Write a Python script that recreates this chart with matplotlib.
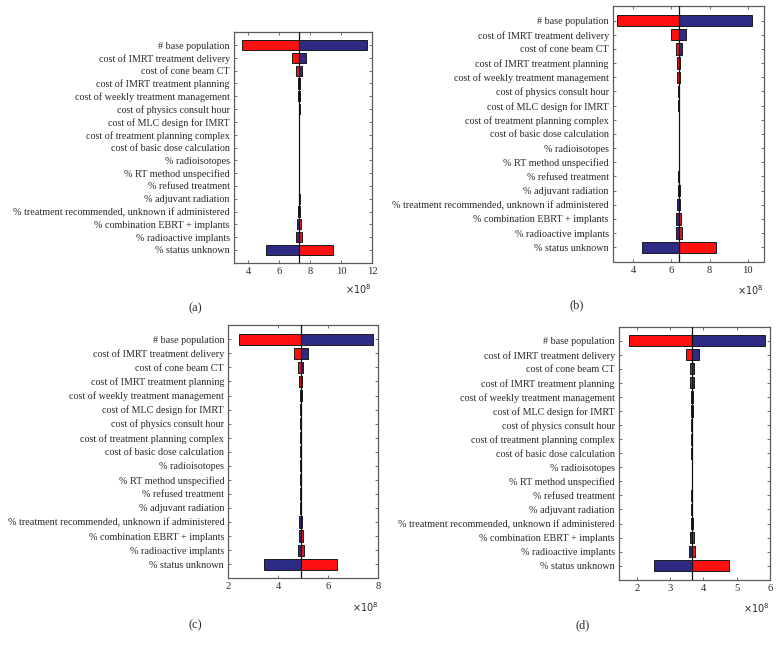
import matplotlib
matplotlib.use("Agg")
import matplotlib.pyplot as plt

plt.rcParams['font.family'] = ['Liberation Serif', 'DejaVu Serif']

categories_ab = [
    "# base population",
    "cost of IMRT treatment delivery",
    "cost of cone beam CT",
    "cost of IMRT treatment planning",
    "cost of weekly treatment management",
    "cost of physics consult hour",
    "cost of MLC design for IMRT",
    "cost of treatment planning complex",
    "cost of basic dose calculation",
    "% radioisotopes",
    "% RT method unspecified",
    "% refused treatment",
    "% adjuvant radiation",
    "% treatment recommended, unknown if administered",
    "% combination EBRT + implants",
    "% radioactive implants",
    "% status unknown",
]
categories_cd = [
    "# base population",
    "cost of IMRT treatment delivery",
    "cost of cone beam CT",
    "cost of IMRT treatment planning",
    "cost of weekly treatment management",
    "cost of MLC design for IMRT",
    "cost of physics consult hour",
    "cost of treatment planning complex",
    "cost of basic dose calculation",
    "% radioisotopes",
    "% RT method unspecified",
    "% refused treatment",
    "% adjuvant radiation",
    "% treatment recommended, unknown if administered",
    "% combination EBRT + implants",
    "% radioactive implants",
    "% status unknown",
]

# values in units of 1e8
base_a = 7.30
red_a = [3.60, 6.85, 7.12, 7.22, 7.24, 7.26, 7.28, 7.29, 7.29, 7.295, 7.295, 7.31, 7.33, 7.35, 7.44, 7.48, 9.50]
blue_a = [11.65, 7.75, 7.48, 7.38, 7.36, 7.34, 7.32, 7.31, 7.31, 7.305, 7.305, 7.29, 7.27, 7.25, 7.17, 7.13, 5.15]

base_b = 6.38
red_b = [3.16, 5.98, 6.22, 6.29, 6.31, 6.35, 6.36, 6.37, 6.37, 6.375, 6.375, 6.40, 6.43, 6.45, 6.50, 6.53, 8.32]
blue_b = [10.21, 6.77, 6.53, 6.47, 6.45, 6.41, 6.40, 6.39, 6.39, 6.385, 6.385, 6.36, 6.33, 6.31, 6.26, 6.22, 4.47]

base_c = 4.89
red_c = [2.43, 4.61, 4.78, 4.82, 4.85, 4.86, 4.87, 4.88, 4.88, 4.885, 4.885, 4.90, 4.92, 4.94, 4.97, 5.01, 6.34]
blue_c = [7.77, 5.17, 5.00, 4.96, 4.93, 4.92, 4.91, 4.90, 4.90, 4.895, 4.895, 4.88, 4.86, 4.84, 4.81, 4.78, 3.43]

base_d = 3.65
red_d = [1.78, 3.48, 3.59, 3.59, 3.62, 3.625, 3.63, 3.635, 3.64, 3.645, 3.645, 3.66, 3.67, 3.68, 3.71, 3.74, 4.77]
blue_d = [5.85, 3.86, 3.73, 3.72, 3.68, 3.675, 3.67, 3.665, 3.66, 3.655, 3.655, 3.64, 3.63, 3.62, 3.60, 3.58, 2.53]

xlim_a = (3.1, 12.0)
xlim_b = (2.93, 10.86)
xlim_c = (2.0, 8.0)
xlim_d = (1.47, 6.0)
xticks_a = [4, 6, 8, 10, 12]
xticks_b = [4, 6, 8, 10]
xticks_c = [2, 4, 6, 8]
xticks_d = [2, 3, 4, 5, 6]
panel_labels = ["(a)", "(b)", "(c)", "(d)"]

RED = "#ff0f0f"
BLUE = "#2e2b85"
EDGE = "#1a1a1a"
FRAME = "#5a5a5a"
TXT = "#2a2a2a"

W, H = 780, 652
fig = plt.figure(figsize=(W / 100, H / 100), dpi=100)


def rect(x0, y0, x1, y1):
    return [x0 / W, 1 - y1 / H, (x1 - x0) / W, (y1 - y0) / H]


panels = [
    (rect(234, 32.2, 372, 262.8), categories_ab, base_a, red_a, blue_a, xlim_a, xticks_a),
    (rect(613, 6.5, 764, 261.5), categories_ab, base_b, red_b, blue_b, xlim_b, xticks_b),
    (rect(228.3, 325.2, 378.3, 578.3), categories_cd, base_c, red_c, blue_c, xlim_c, xticks_c),
    (rect(619, 326.6, 770, 579.8), categories_cd, base_d, red_d, blue_d, xlim_d, xticks_d),
]
label_pos = [(195, 308), (577, 305), (195, 625), (583, 625)]

for (pos, cats, base, red, blue, xl, xt), lab, (lx, ly) in zip(panels, panel_labels, label_pos):
    ax = fig.add_axes(pos)
    n = len(cats)
    ys = list(range(n))
    red_w = [r - base for r in red]
    blue_w = [b - base for b in blue]
    ax.barh(ys, red_w, left=base, height=0.8, color=RED, edgecolor=EDGE, linewidth=0.7, zorder=2)
    ax.barh(ys, blue_w, left=base, height=0.8, color=BLUE, edgecolor=EDGE, linewidth=0.7, zorder=2)
    ax.axvline(base, color="#111111", linewidth=0.9, zorder=3)
    ax.set_xlim(*xl)
    ax.set_ylim(n, -1)
    ax.set_yticks(ys)
    ax.set_yticklabels(cats, fontsize=7.3, color=TXT)
    ax.set_xticks(xt)
    ax.set_xticklabels([str(t) for t in xt], fontsize=7.6, color=TXT)
    ax.tick_params(direction="in", length=2.5, width=0.6, color=FRAME,
                   top=True, right=True, pad=3)
    for s in ax.spines.values():
        s.set_color(FRAME)
        s.set_linewidth(0.9)
    ax.text(1.0, -0.085, r"$\times10^{8}$", transform=ax.transAxes, ha="right", va="top",
            fontsize=7, color=TXT)
    fig.text(lx / W, 1 - ly / H, lab, ha="center", va="center", fontsize=9, color=TXT)

fig.savefig("out.png", dpi=100)
